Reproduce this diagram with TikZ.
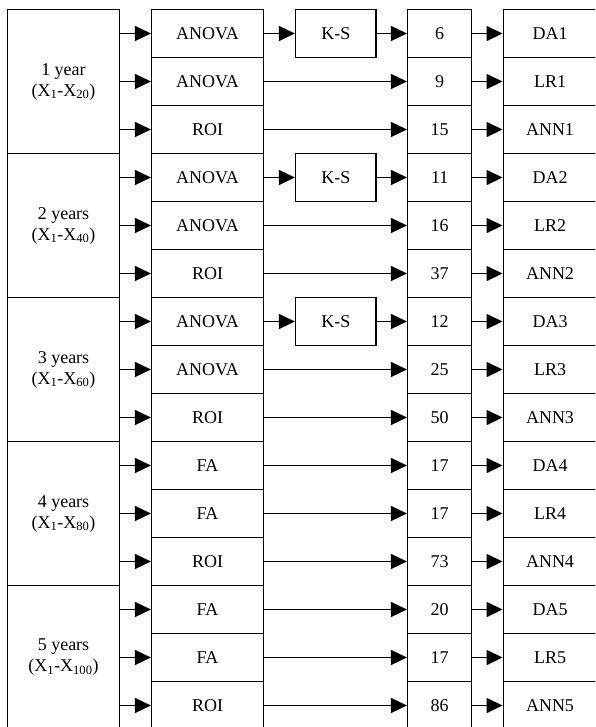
\documentclass[tikz,border=0pt]{standalone}
\usepackage{fontspec}
\setmainfont{Liberation Serif}
\usetikzlibrary{arrows.meta}
\begin{document}
\begin{tikzpicture}[x=1pt,y=-1pt,font=\fontsize{18}{21}\selectfont,
  cell/.style={draw,line width=1.5pt,minimum height=48pt,inner sep=0pt,anchor=center},
  grp/.style={draw,line width=1.5pt,minimum height=144pt,minimum width=112pt,inner sep=0pt,align=center,anchor=center},
  arr/.style={-{Triangle[length=16pt,width=15pt]},line width=1.5pt}]
\clip (0,0) rectangle (595,727);
% group boxes
\foreach \k/\t/\s in {1/1 year/20,2/2 years/40,3/3 years/60,4/4 years/80,5/5 years/100}{
  \node[grp] (g\k) at (63.5,{81.5+144*(\k-1)}) {\t\\(X\textsubscript{1}-X\textsubscript{\s})};
}
% rows
\foreach \i/\a/\n/\d in {1/ANOVA/6/DA1,2/ANOVA/9/LR1,3/ROI/15/ANN1,
  4/ANOVA/11/DA2,5/ANOVA/16/LR2,6/ROI/37/ANN2,
  7/ANOVA/12/DA3,8/ANOVA/25/LR3,9/ROI/50/ANN3,
  10/FA/17/DA4,11/FA/17/LR4,12/ROI/73/ANN4,
  13/FA/20/DA5,14/FA/17/LR5,15/ROI/86/ANN5}{
  \pgfmathsetmacro\yy{33.5+48*(\i-1)}
  \pgfmathtruncatemacro\g{int((\i-1)/3)+1}
  \node[cell,minimum width=111.6pt] (a\i) at (207.5,\yy) {\a};
  \node[cell,minimum width=64pt] (n\i) at (439.7,\yy) {\n};
  \node[cell,minimum width=93.4pt] (d\i) at (550,\yy) {\d};
  \draw[arr] (g\g.east |- a\i.west) -- (a\i.west);
  \draw[arr] (n\i.east) -- (d\i.west);
}
% K-S boxes
\foreach \i in {1,4,7}{
  \node[cell,minimum width=80.3pt] (k\i) at (335.8,{33.5+48*(\i-1)}) {K-S};
  \draw[arr] (a\i.east) -- (k\i.west);
  \draw[arr] (k\i.east) -- (n\i.west);
}
\foreach \i in {2,3,5,6,8,9,10,11,12,13,14,15}{
  \draw[arr] (a\i.east) -- (n\i.west);
}
\end{tikzpicture}
\end{document}
